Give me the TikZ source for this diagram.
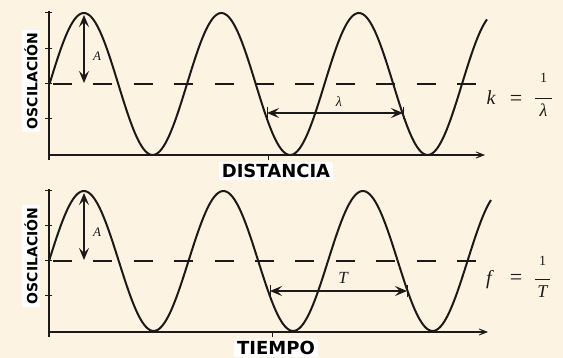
\documentclass[tikz,border=0pt]{standalone}
\usepackage{fontspec}
\usetikzlibrary{arrows.meta}
\newfontfamily\labfont{DejaVu Sans}
\newfontfamily\mfont{Liberation Serif}
\definecolor{bgcream}{HTML}{FDF3E3}
\definecolor{ink}{HTML}{1C1A18}
\tikzset{
  curve/.style={ink, line width=2pt, line join=round},
  axisline/.style={ink, line width=1.3pt},
  axisarrow/.style={axisline, -{Stealth[length=13pt,width=10pt,inset=9pt,line width=0.6pt]}},
  midline/.style={ink, line width=1.6pt, dash pattern=on 19pt off 21.4pt},
  dimarrow/.style={ink, line width=1.2pt, {Stealth[length=12pt,width=10pt,inset=5pt]}-{Stealth[length=12pt,width=10pt,inset=5pt]}},
  tickmark/.style={ink, line width=1pt},
  axlabel/.style={fill=white, inner xsep=3pt, inner ysep=2pt, text=black, font=\labfont\bfseries\fontsize{18}{20}\selectfont},
  ylabel/.style={fill=white, inner xsep=3pt, inner ysep=2pt, text=black, rotate=90, font=\labfont\bfseries\fontsize{14}{16}\selectfont},
  mathlab/.style={ink, inner sep=0pt, font=\mfont\itshape\fontsize{20}{22}\selectfont},
  numlab/.style={ink, inner sep=0pt, font=\mfont\fontsize{14}{16}\selectfont},
  denlab/.style={ink, inner sep=0pt, font=\mfont\itshape\fontsize{18}{20}\selectfont},
  eqlab/.style={ink, inner sep=0pt, font=\mfont\fontsize{22}{24}\selectfont},
}
\begin{document}
\begin{tikzpicture}[x=1pt,y=-1pt]
\fill[bgcream] (0,0) rectangle (563,358);
\useasboundingbox (0,0) rectangle (563,358);

% ---------------- top panel ----------------
\coordinate (t-ytop) at (49,11);
\coordinate (t-ybot) at (49,160);
\coordinate (t-orig) at (49,155);
\coordinate (t-xend) at (485,155);
\coordinate (t-dl) at (53,84);
\coordinate (t-dr) at (477,84);
\draw[axisline] (t-ytop) -- (t-ybot);
\draw[axisarrow] (t-orig) -- (t-xend);
\foreach \yy in {13,49,84,119} \draw[tickmark] (45,\yy) -- (52,\yy);
\draw[tickmark] (268,155) -- (268,160);
\draw[midline] (t-dl) -- (t-dr);
\draw[curve] plot[domain=49.5:487, samples=220, smooth] (\x, {84 - 71*sin(2.61818*(\x-49.5))});

\coordinate (t-a1) at (84,83);
\coordinate (t-a2) at (84,15);
\draw[dimarrow] (t-a1) -- (t-a2);
\node[mathlab, font=\mfont\itshape\fontsize{13}{15}\selectfont] (t-A) at (97,56) {A};

\coordinate (t-l1) at (267,113);
\coordinate (t-l2) at (403,113);
\draw[dimarrow] (t-l1) -- (t-l2);
\draw[tickmark] (267,107) -- (267,119);
\draw[tickmark] (403,107) -- (403,119);
\node[mathlab, font=\mfont\itshape\fontsize{14}{16}\selectfont] (t-lam) at (339,102) {λ};

\node[mathlab] (t-k) at (491,98) {k};
\node[eqlab] (t-eq) at (516,100) {=};
\node[numlab] (t-num) at (543.5,78) {1};
\draw[ink, line width=0.9pt] (535,98.5) -- (552,98.5);
\node[denlab] (t-den) at (543.5,110) {λ};

\node[axlabel] (t-xlab) at (276,171) {DISTANCIA};
\node[ylabel] (t-ylab) at (31,81) {OSCILACIÓN};

% ---------------- bottom panel ----------------
\coordinate (b-ytop) at (49,189);
\coordinate (b-ybot) at (49,337);
\coordinate (b-orig) at (49,332);
\coordinate (b-xend) at (488,332);
\coordinate (b-dl) at (53,261);
\coordinate (b-dr) at (480,261);
\draw[axisline] (b-ytop) -- (b-ybot);
\draw[axisarrow] (b-orig) -- (b-xend);
\foreach \yy in {191,226,261,296} \draw[tickmark] (45,\yy) -- (52,\yy);
\draw[tickmark] (272,332) -- (272,337);
\draw[midline] (b-dl) -- (b-dr);
\draw[curve] plot[domain=49:491, samples=220, smooth] (\x, {261 - 70*sin(2.58065*(\x-49))});

\coordinate (b-a1) at (84,260);
\coordinate (b-a2) at (84,193);
\draw[dimarrow] (b-a1) -- (b-a2);
\node[mathlab, font=\mfont\itshape\fontsize{13}{15}\selectfont] (b-A) at (97,232) {A};

\coordinate (b-t1) at (270,291);
\coordinate (b-t2) at (407,291);
\draw[dimarrow] (b-t1) -- (b-t2);
\draw[tickmark] (270,285) -- (270,297);
\draw[tickmark] (407,285) -- (407,297);
\node[mathlab, font=\mfont\itshape\fontsize{17}{20}\selectfont] (b-T) at (343,278) {T};

\node[mathlab] (b-f) at (489,280) {f};
\node[eqlab] (b-eq) at (516,279) {=};
\node[numlab] (b-num) at (542.5,261) {1};
\draw[ink, line width=0.9pt] (535,279.5) -- (550,279.5);
\node[denlab] (b-den) at (542.5,292) {T};

\node[axlabel] (b-xlab) at (276,348) {TIEMPO};
\node[ylabel] (b-ylab) at (31,256) {OSCILACIÓN};
\end{tikzpicture}
\end{document}
